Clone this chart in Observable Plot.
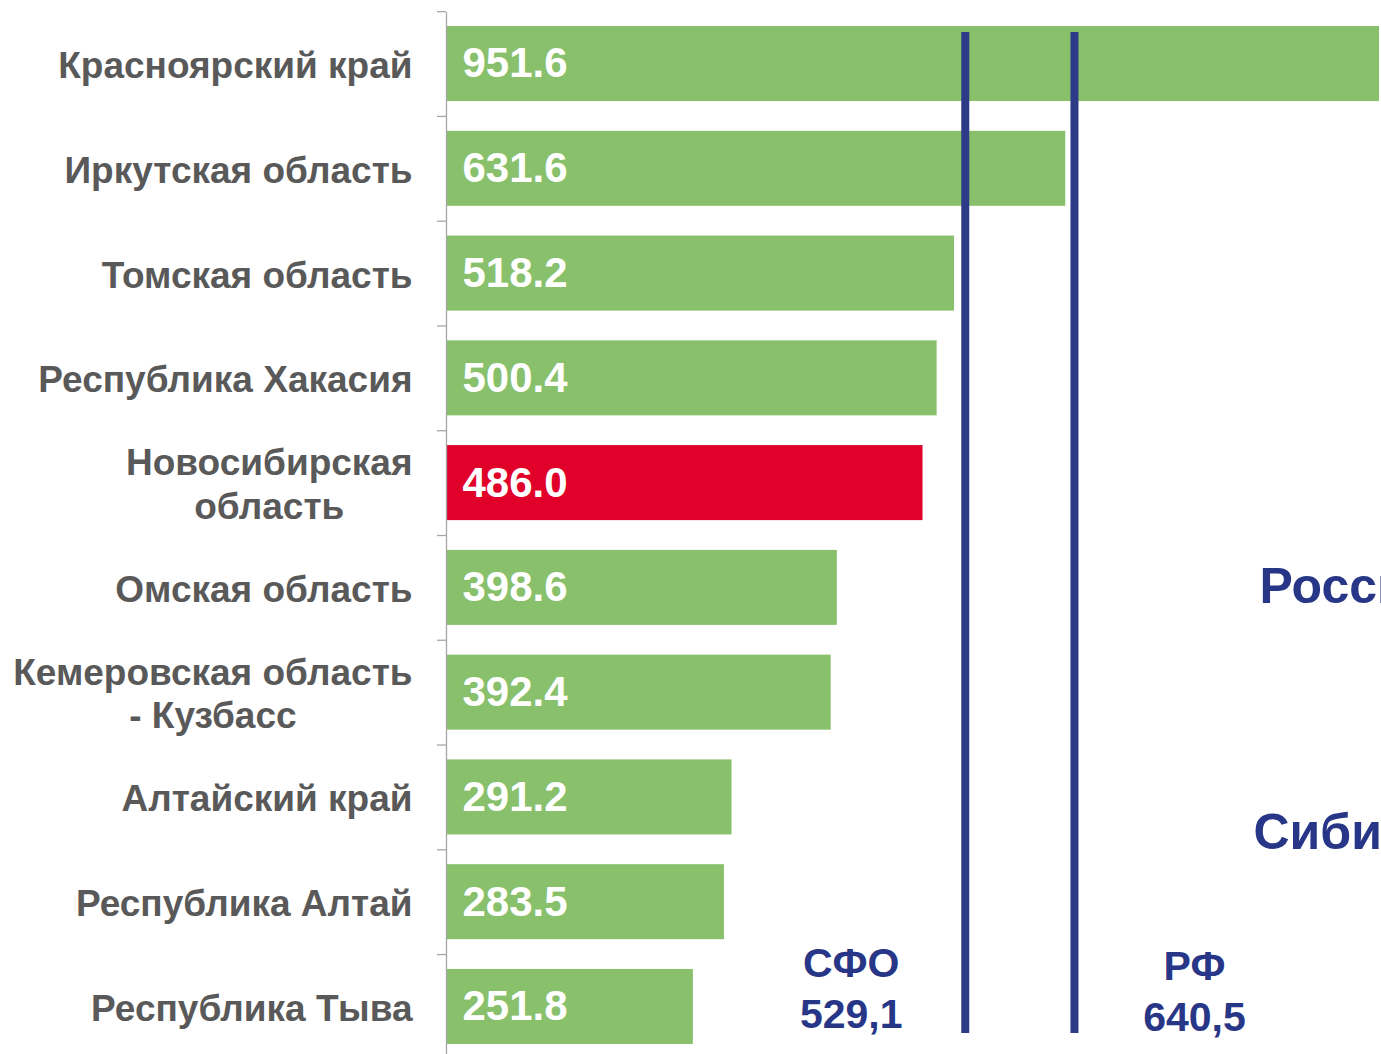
<!DOCTYPE html>
<html>
<head>
<meta charset="utf-8">
<script src="https://cdn.jsdelivr.net/npm/d3@7"></script>
<script src="https://cdn.jsdelivr.net/npm/@observablehq/plot@0.6"></script>
<style>
  html, body { margin: 0; padding: 0; background: #fff; overflow: hidden; height: 1054px; }
  #chart svg { overflow: hidden; display: block; }
</style>
</head>
<body>
<div id="chart"></div>
<script>
// ---- data ----
const regions = [
  "Красноярский край",
  "Иркутская область",
  "Томская область",
  "Республика Хакасия",
  "Новосибирская область",
  "Омская область",
  "Кемеровская область - Кузбасс",
  "Алтайский край",
  "Республика Алтай",
  "Республика Тыва"
];
const displayLabels = [
  "Красноярский край",
  "Иркутская область",
  "Томская область",
  "Республика Хакасия",
  "Новосибирская\nобласть",
  "Омская область",
  "Кемеровская область\n- Кузбасс",
  "Алтайский край",
  "Республика Алтай",
  "Республика Тыва"
];
const values = [951.6, 631.6, 518.2, 500.4, 486.0, 398.6, 392.4, 291.2, 283.5, 251.8];
const highlighted = "Новосибирская область";
const refNames = ["СФО", "РФ"];
const refValues = [529.1, 640.5];
const refLabels = ["529,1", "640,5"];
const sideTexts = ["Россия", "Сибирь"];

// ---- styles ----
// The SVG is slightly taller than the window; the last band runs past the bottom edge as in the reference.
const W = 1381, H = 1058;
const mLeft = 446, mRight = 2, mTop = 12, mBottom = 0;
const green = "#88c06c", red = "#e0002a", navy = "#2d3a87", navyText = "#283687";
const labelGray = "#595959", axisGray = "#a6a6a6";
const font = "'Liberation Sans', Arial, sans-serif";
const labelSize = 37, valueSize = 42, refSize = 41;

const data = regions.map((r, i) => ({region: r, label: displayLabels[i], value: values[i]}));

const canvas = document.createElement("canvas");
const ctx = canvas.getContext("2d");
ctx.font = `bold ${labelSize}px 'Liberation Sans'`;
const measure = s => Math.max(...s.split("\n").map(l => ctx.measureText(l).width));

const pIn = 0.284, pOut = 0.134;
const step = (H - mTop - mBottom) / (regions.length - pIn + 2 * pOut);

const labelMarks = data.map(d => Plot.text([d], {
  y: "region", text: "label", frameAnchor: "left",
  textAnchor: "middle", dx: -(34 + measure(d.label) / 2),
  lineHeight: 1.18, fontSize: labelSize, fontWeight: "bold", fill: labelGray
}));

const refData = refNames.map((n, i) => ({name: n, value: refValues[i], text: n + "\n" + refLabels[i]}));

const chart = Plot.plot({
  width: W, height: H,
  marginLeft: mLeft, marginRight: mRight, marginTop: mTop, marginBottom: mBottom,
  style: {fontFamily: font, background: "#fff"},
  x: {domain: [0, d3.max(values)], axis: null},
  y: {domain: regions, paddingInner: pIn, paddingOuter: pOut, round: false, axis: null},
  marks: [
    Plot.barX(data, {x: "value", y: "region", fill: d => d.region === highlighted ? red : green}),
    Plot.text(data, {
      x: 0, y: "region", text: d => d3.format(".1f")(d.value),
      textAnchor: "start", dx: 16, fill: "#fff", fontSize: valueSize, fontWeight: "bold"
    }),
    Plot.ruleX([0], {stroke: axisGray, strokeWidth: 1.3}),
    Plot.ruleY(regions, {y: d => d, x1: 0, x2: 0, insetLeft: -9, dy: -step / 2, stroke: axisGray, strokeWidth: 1.3}),
    Plot.ruleX(refValues, {stroke: navy, strokeWidth: 8, insetTop: 20, insetBottom: 25}),
    Plot.text([refData[0]], {
      x: "value", text: "text", frameAnchor: "bottom", lineAnchor: "bottom",
      dx: -114, dy: -31, lineHeight: 1.24, fontSize: refSize, fontWeight: "bold", fill: navyText
    }),
    Plot.text([refData[1]], {
      x: "value", text: "text", frameAnchor: "bottom", lineAnchor: "bottom",
      dx: 120, dy: -28, lineHeight: 1.24, fontSize: refSize, fontWeight: "bold", fill: navyText
    }),
    Plot.text([sideTexts[0]], {
      text: d => d, frameAnchor: "left", textAnchor: "start", lineAnchor: "middle",
      dx: 813, dy: 51, fontSize: 50, fontWeight: "bold", fill: navyText
    }),
    Plot.text([sideTexts[1]], {
      text: d => d, frameAnchor: "left", textAnchor: "start", lineAnchor: "middle",
      dx: 807, dy: 297, fontSize: 50, fontWeight: "bold", fill: navyText
    }),
    ...labelMarks
  ]
});
document.getElementById("chart").appendChild(chart);
</script>
</body>
</html>
